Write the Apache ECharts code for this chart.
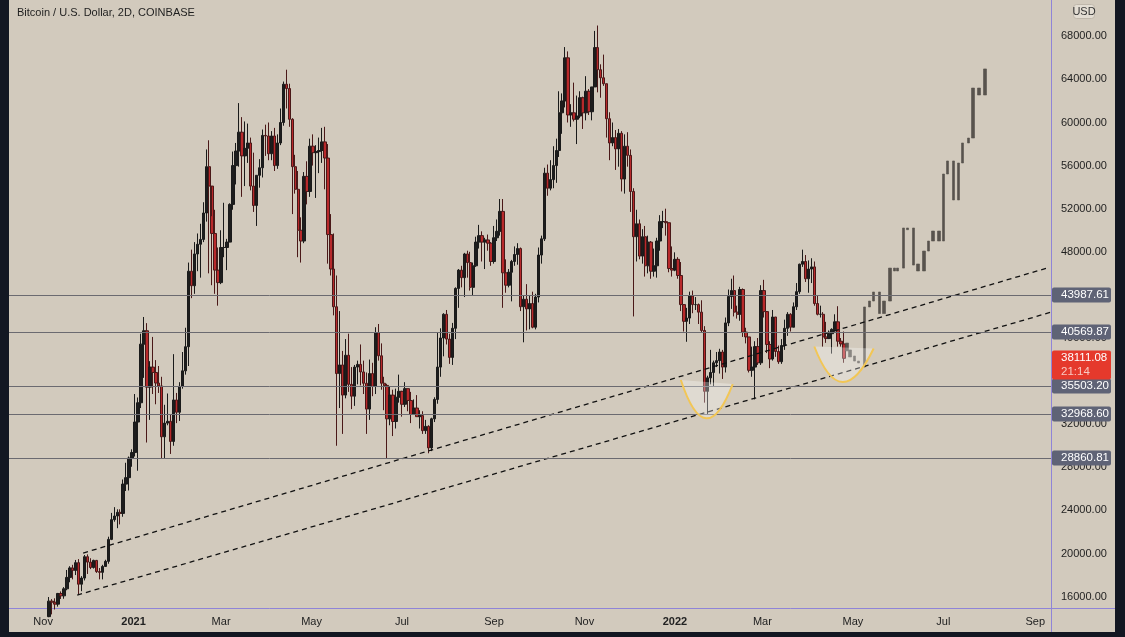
<!DOCTYPE html>
<html><head><meta charset="utf-8">
<script src="https://cdn.jsdelivr.net/npm/echarts@6/dist/echarts.min.js"></script>
<style>html,body{margin:0;padding:0;background:#131722;}#c{width:1125px;height:637px;}</style>
</head><body><div id="c"></div>
<script>
// ---------- data ----------
const titleText = 'Bitcoin / U.S. Dollar, 2D, COINBASE';
const currency = 'USD';
const candleStart = '2020-11-01';   // first 2D candle
const candleStepDays = 2;
const firstOpenK = 13.75;           // USD thousands
// 2D candle closes, highs, lows (USD thousands), Nov 2020 -> Apr 2022
const closeK = [
13.55,14.14,15.58,15.48,15.30,16.29,16.07,16.72,17.78,18.66,18.42,19.15,17.15,17.72,19.70,
19.20,18.70,19.36,18.32,18.25,18.80,19.27,21.31,23.14,23.48,23.82,23.72,26.44,27.04,28.86,29.37,
32.20,33.99,39.43,40.67,35.44,37.30,36.80,35.82,35.55,30.83,32.10,32.27,30.40,34.25,33.11,
35.51,36.95,39.19,46.20,44.85,47.80,48.70,49.15,51.60,55.90,54.10,49.70,46.30,45.14,
48.40,48.40,48.90,52.40,56.00,57.35,59.10,56.90,57.60,58.10,54.10,52.30,55.10,55.80,58.80,
58.75,57.10,58.75,56.00,58.10,60.00,63.55,63.15,60.30,55.90,53.80,50.00,49.00,55.00,53.60,
57.80,57.20,57.30,57.40,58.20,56.70,49.60,46.40,42.90,36.70,37.50,34.70,38.40,35.70,34.60,37.30,
37.55,36.85,35.80,33.40,36.70,35.50,40.50,38.35,35.80,35.60,32.50,34.70,32.25,34.50,35.05,
33.85,35.30,34.20,32.90,33.50,32.70,32.80,31.40,31.80,29.80,32.50,34.30,37.30,40.00,42.20,
39.90,38.20,40.90,44.60,46.30,45.60,47.80,47.00,44.70,46.70,48.90,49.50,48.90,49.10,48.80,47.10,
49.30,49.90,51.75,46.05,44.90,46.10,47.10,47.75,48.30,42.90,43.60,42.70,43.20,41.00,43.80,
47.70,49.20,55.30,53.90,54.70,56.00,57.40,60.90,62.00,66.00,60.70,60.90,60.30,60.60,62.30,60.90,
62.90,61.00,63.30,66.95,64.90,64.15,63.60,60.35,58.10,58.60,57.55,59.00,54.75,57.80,56.95,
53.60,49.40,50.60,47.60,49.40,46.70,48.90,46.20,46.70,49.00,50.80,50.80,50.70,46.45,46.30,
47.30,45.80,43.10,41.55,41.85,43.90,43.10,43.10,42.40,40.70,35.05,36.30,36.80,37.70,37.90,38.70,
37.30,41.40,43.85,44.40,42.40,42.20,44.50,40.55,40.10,37.00,37.30,39.20,37.70,44.40,
42.45,39.40,38.05,41.95,38.75,37.80,39.30,40.90,42.20,41.00,42.90,44.30,46.85,47.10,45.50,
46.40,46.60,43.20,42.20,42.20,40.10,39.95,40.40,40.80,41.50,39.70,39.45,38.11
];
const highK = [
13.86,14.24,15.96,15.77,15.84,16.34,16.48,16.88,18.47,18.82,18.95,19.40,19.48,17.90,19.86,
19.92,19.56,19.42,19.40,18.65,18.95,19.42,21.56,23.77,24.30,24.10,24.10,26.87,28.42,29.00,29.67,
34.80,34.48,40.40,41.95,41.38,37.85,40.10,37.95,37.40,36.40,33.80,34.85,32.90,38.50,34.90,
35.90,38.70,40.95,47.00,48.20,48.90,49.70,50.60,52.60,57.50,58.35,51.30,51.90,48.40,
50.00,52.55,49.20,52.50,57.30,58.10,61.80,60.50,60.10,59.90,58.60,57.20,55.10,56.60,59.35,
59.80,60.00,59.20,59.50,58.90,61.30,63.80,64.90,63.60,60.40,57.00,55.50,51.20,55.40,56.40,
58.50,58.90,57.90,58.60,59.50,59.60,58.00,51.50,49.70,45.80,42.50,38.80,39.90,40.40,37.30,37.50,
37.90,39.40,37.90,36.80,38.00,37.70,41.00,41.30,39.50,36.40,35.75,35.50,35.20,35.30,36.60,
35.10,35.90,35.30,35.00,34.30,34.70,33.30,33.20,32.40,31.90,32.60,34.50,40.50,40.90,42.30,
42.60,40.40,41.40,44.70,46.40,46.70,47.90,48.10,48.00,47.00,49.40,50.50,49.90,49.30,49.60,48.90,
50.40,51.00,52.90,52.90,47.30,46.40,47.25,48.50,48.80,48.40,43.95,45.00,43.90,44.30,44.10,
48.40,49.50,55.80,56.10,56.50,57.80,58.50,62.90,62.70,67.00,66.60,61.70,63.70,62.50,62.90,62.40,
64.30,63.10,63.30,68.50,69.00,65.40,66.30,63.60,60.95,60.00,59.30,59.40,59.20,58.90,59.10,
57.50,53.90,51.90,51.00,50.10,50.40,49.50,49.00,48.30,49.30,51.40,51.80,52.00,50.70,48.50,
47.95,47.50,47.05,43.15,42.80,44.30,44.40,43.80,43.20,43.50,41.10,36.50,38.90,37.90,38.70,39.00,
38.90,41.90,44.50,45.50,45.80,43.00,44.75,44.60,40.95,40.10,39.20,39.70,40.00,44.90,
45.40,42.50,39.70,42.60,41.95,39.30,39.90,41.70,42.40,42.30,43.30,45.10,46.90,48.20,47.70,
47.20,47.40,47.10,43.90,43.00,42.40,41.50,40.70,40.90,42.20,42.95,40.00,40.60
];
const lowK = [
13.20,13.29,14.09,14.35,14.80,15.07,15.78,15.80,16.59,17.33,17.60,18.00,16.20,16.50,17.50,
18.10,18.55,18.60,18.20,17.60,17.60,18.75,19.05,21.24,22.95,22.35,22.70,23.41,25.80,25.85,28.05,
29.00,27.68,33.50,36.30,30.30,32.40,34.80,33.85,34.90,28.85,28.85,31.90,29.24,30.00,32.10,
32.30,35.30,36.60,37.40,43.70,44.10,46.20,45.60,48.90,50.80,46.00,44.90,44.10,43.00,
45.00,47.50,46.30,48.90,51.90,54.25,55.90,53.10,54.10,56.25,53.70,51.70,50.40,53.95,54.90,
56.90,56.50,56.50,55.50,55.70,57.90,59.70,61.30,59.60,51.50,53.40,47.50,47.00,48.80,52.40,
53.10,56.00,53.00,55.30,56.25,53.80,46.90,45.80,42.10,30.00,33.50,31.10,34.40,35.00,33.40,33.70,
35.70,35.60,34.80,31.10,32.40,34.60,34.80,37.90,35.20,33.30,28.80,31.90,30.90,31.60,34.00,
32.70,33.60,33.20,32.10,32.90,32.70,31.60,31.10,31.10,29.30,29.50,32.20,33.90,36.40,38.30,
39.40,37.60,37.50,39.90,42.80,44.70,43.80,45.60,44.40,43.90,46.60,48.30,47.10,46.40,48.10,46.70,
46.90,49.00,49.50,42.80,44.20,44.70,43.40,46.70,46.80,42.50,39.60,40.70,40.80,40.90,40.80,
43.30,46.90,49.00,53.20,53.70,53.90,54.40,56.80,58.95,61.40,60.00,59.60,60.10,58.00,60.40,59.40,
60.20,60.70,60.20,63.30,62.80,62.30,63.40,58.60,56.50,57.80,55.60,55.90,53.60,53.40,55.90,
51.70,42.00,47.10,47.30,46.90,45.70,46.00,45.50,45.70,45.60,48.10,50.20,49.50,46.10,45.70,
46.20,45.50,42.50,40.60,39.65,41.30,42.30,42.60,41.30,40.55,34.00,32.95,35.70,35.50,37.30,36.70,
36.20,36.80,41.10,42.70,42.00,41.80,41.60,40.10,39.50,36.80,36.40,34.30,37.50,37.50,
41.90,38.60,37.20,37.90,38.25,37.60,37.60,38.90,40.20,40.60,41.00,42.60,44.10,46.60,45.20,
44.20,45.10,43.00,42.10,41.90,39.20,39.55,39.90,38.55,40.60,39.20,39.20,37.70
];
// projected grey bars (bars pattern), low/high in USD
const projDates = ['2022-04-27','2022-04-29','2022-05-02','2022-05-05','2022-05-09','2022-05-12','2022-05-15','2022-05-19','2022-05-22','2022-05-26',
  '2022-05-29','2022-05-31','2022-06-04','2022-06-07','2022-06-11','2022-06-14','2022-06-18','2022-06-21','2022-06-24','2022-06-28',
  '2022-07-01','2022-07-04','2022-07-08','2022-07-11','2022-07-14','2022-07-18','2022-07-21','2022-07-25','2022-07-29'];
const projLow  = [38800,38240,37860,37680,37310,42880,43430,42270,42270,43430,46220,46220,46490,50050,46770,46220,46220,48070,49000,49000,49000,55220,52810,52810,56240,58100,58560,62550,62550];
const projHigh = [39530,38890,38330,37860,42880,43430,44270,44270,43430,46490,46490,46490,50210,50210,50210,46870,48070,49000,49930,49930,55220,56430,56430,56240,58100,58560,63200,63200,64970];
// horizontal levels
const levels = [43987.61, 40569.87, 35503.20, 32968.60, 28860.81];
const lastPrice = 38111.08;
const countdown = '21:14';
// dashed trend lines [date, price]
const trendUpper = [['2020-11-28', 20045], ['2022-09-09', 46496]];
const trendLower = [['2020-11-24', 16147], ['2022-09-12', 42411]];
// cup arcs: left top, bottom, right top
const arcs = [
  [['2022-01-05', 36101], ['2022-01-22', 32547], ['2022-02-09', 35729]],
  [['2022-04-05', 39210], ['2022-04-24', 35915], ['2022-05-15', 39024]]
];
const xTicks = ['2020-11-01','2021-01-01','2021-03-01','2021-05-01','2021-07-01','2021-09-01','2021-11-01','2022-01-01','2022-03-01','2022-05-01','2022-07-01','2022-09-01'];
const yTicks = [16000,20000,24000,28000,32000,36000,40000,44000,48000,52000,56000,60000,64000,68000];
const xRange = ['2020-10-09T00:00:00Z', '2022-09-11T14:00:00Z'];
const yRange = [14942, 71369];
const monthNames = ['Jan','Feb','Mar','Apr','May','Jun','Jul','Aug','Sep','Oct','Nov','Dec'];

// ---------- build ----------
if (closeK.length !== highK.length || closeK.length !== lowK.length) throw new Error('len ' + closeK.length + ' ' + highK.length + ' ' + lowK.length);
const DAY = 86400000;
const ts = s => Date.parse(s.length === 10 ? s + 'T00:00:00Z' : s);
const t0 = ts(candleStart);
const candles = closeK.map((c, i) => {
  const o = i === 0 ? firstOpenK : closeK[i - 1];
  return [t0 + i * candleStepDays * DAY, o * 1000, c * 1000, lowK[i] * 1000, highK[i] * 1000];
});
const proj = projDates.map((d, i) => [ts(d), projLow[i], projHigh[i], projLow[i], projHigh[i]]);
const arcData = arcs.map(a => [ts(a[0][0]), a[0][1], ts(a[1][0]), a[1][1], ts(a[2][0]), a[2][1]]);

const FONT = "'Liberation Sans', Arial, sans-serif";
const PURPLE = '#8f84d8';
const BG = '#d2cabd';

const chart = echarts.init(document.getElementById('c'), null, {renderer: 'canvas'});
const option = {
  animation: false,
  backgroundColor: BG,
  grid: {left: 9, right: 74, top: 0, bottom: 29, containLabel: false},
  xAxis: {
    type: 'value', min: ts(xRange[0]), max: ts(xRange[1]),
    axisLine: {show: true, onZero: false, lineStyle: {color: PURPLE, width: 1}},
    axisTick: {show: false}, splitLine: {show: false},
    axisLabel: {
      customValues: xTicks.map(ts), margin: 8, color: '#222', fontSize: 11, fontFamily: FONT,
      formatter: v => { const d = new Date(v); const m = d.getUTCMonth(); return m === 0 ? '{b|' + d.getUTCFullYear() + '}' : monthNames[m]; },
      rich: {b: {fontWeight: 'bold', fontSize: 11, fontFamily: FONT, color: '#222'}}
    }
  },
  yAxis: {
    type: 'value', position: 'right', min: yRange[0], max: yRange[1],
    axisLine: {show: true, onZero: false, lineStyle: {color: PURPLE, width: 1}},
    axisTick: {show: false}, splitLine: {show: false},
    axisLabel: {customValues: yTicks, margin: 10, color: '#1e1e1e', fontSize: 11, fontFamily: FONT, formatter: v => v.toFixed(2)}
  },
  series: [
    {
      type: 'candlestick', data: candles, encode: {x: 0, y: [1, 2, 3, 4]}, barWidth: 2.9, clip: true, z: 2,
      itemStyle: {color: '#1d1d1d', color0: '#b8292b', borderColor: '#1a1a1a', borderColor0: '#4a1818', borderWidth: 1}
    },
    {
      type: 'candlestick', data: proj, encode: {x: 0, y: [1, 2, 3, 4]}, barWidth: 2.8, clip: true, z: 2,
      itemStyle: {color: '#58534d', color0: '#58534d', borderColor: '#58534d', borderColor0: '#58534d', borderWidth: 0.6}
    },
    {
      type: 'line', data: [], symbol: 'none', z: 1,
      markLine: {
        silent: true, symbol: 'none', animation: false,
        lineStyle: {color: '#6b6a70', width: 1, type: 'solid'},
        label: {show: false},
        data: levels.map(v => ({yAxis: v}))
      }
    },
    {
      type: 'line', data: trendUpper.map(p => [ts(p[0]), p[1]]), symbol: 'none', clip: true, z: 4,
      lineStyle: {color: '#111', width: 1.3, type: [5, 4]}
    },
    {
      type: 'line', data: trendLower.map(p => [ts(p[0]), p[1]]), symbol: 'none', clip: true, z: 4,
      lineStyle: {color: '#111', width: 1.3, type: [5, 4]}
    },
    {
      type: 'custom', data: arcData, encode: {x: [0, 2, 4], y: [1, 3, 5]}, z: 5, clip: true,
      renderItem: (params, api) => {
        const p0 = api.coord([api.value(0), api.value(1)]);
        const b = api.coord([api.value(2), api.value(3)]);
        const p2 = api.coord([api.value(4), api.value(5)]);
        const c = [2 * b[0] - (p0[0] + p2[0]) / 2, 2 * b[1] - (p0[1] + p2[1]) / 2];
        const d = 'M' + p0[0] + ' ' + p0[1] + ' Q' + c[0] + ' ' + c[1] + ' ' + p2[0] + ' ' + p2[1];
        return {type: 'group', children: [
          {type: 'path', shape: {pathData: d + ' Z'}, style: {fill: 'rgba(255,255,255,0.3)', stroke: null}},
          {type: 'path', shape: {pathData: d}, style: {fill: null, stroke: '#f2c655', lineWidth: 2}}
        ]};
      }
    }
  ]
};
chart.setOption(option);

// frame, title, currency tag
const graphics = [
  {type: 'rect', id: 'fl', shape: {x: 0, y: 0, width: 9, height: 637}, style: {fill: '#131722'}, z: 50},
  {type: 'rect', id: 'fr', shape: {x: 1115, y: 0, width: 10, height: 637}, style: {fill: '#131722'}, z: 50},
  {type: 'rect', id: 'fb', shape: {x: 0, y: 632, width: 1125, height: 5}, style: {fill: '#131722'}, z: 50},
  {type: 'line', id: 'pv', shape: {x1: 1051.5, y1: 608, x2: 1051.5, y2: 632}, style: {stroke: PURPLE, lineWidth: 1}, z: 40},
  {type: 'line', id: 'ph', shape: {x1: 1051, y1: 608.5, x2: 1115, y2: 608.5}, style: {stroke: PURPLE, lineWidth: 1}, z: 40},
  {type: 'text', id: 'title', x: 17, y: 13, style: {text: titleText, font: '11px ' + FONT, fill: '#1f1f1f', textVerticalAlign: 'middle'}, z: 40},
  {type: 'rect', id: 'usdbox', shape: {x: 1073.5, y: 4.5, width: 21, height: 14, r: 3}, style: {fill: '#e3ddd3', stroke: '#bfb7ab', lineWidth: 1}, z: 40},
  {type: 'text', id: 'usd', x: 1084, y: 11.8, style: {text: currency, font: '11px ' + FONT, fill: '#333', textAlign: 'center', textVerticalAlign: 'middle'}, z: 41}
];
// price-scale label boxes positioned through the y scale
levels.forEach((v, i) => {
  const y = Math.round(chart.convertToPixel({yAxisIndex: 0}, v));
  graphics.push({type: 'rect', id: 'lvlr' + i, shape: {x: 1052, y: y - 7.5, width: 59, height: 15, r: 2}, style: {fill: '#5f6376'}, z: 60});
  graphics.push({type: 'text', id: 'lvlt' + i, x: 1061, y: y + 0.3, style: {text: v.toFixed(2), font: '11.5px ' + FONT, fill: '#ffffff', textVerticalAlign: 'middle'}, z: 61});
});
{
  const y = Math.round(chart.convertToPixel({yAxisIndex: 0}, lastPrice));
  graphics.push({type: 'rect', id: 'lastr', shape: {x: 1052, y: y - 7.5, width: 59, height: 29, r: 2}, style: {fill: '#e5392c'}, z: 62});
  graphics.push({type: 'text', id: 'lastt', x: 1061, y: y + 0.3, style: {text: lastPrice.toFixed(2), font: '11.5px ' + FONT, fill: '#ffffff', textVerticalAlign: 'middle'}, z: 63});
  graphics.push({type: 'text', id: 'cd', x: 1061, y: y + 13.8, style: {text: countdown, font: '11.5px ' + FONT, fill: '#f8c9c3', textVerticalAlign: 'middle'}, z: 63});
}
chart.setOption({graphic: graphics});
</script></body></html>
